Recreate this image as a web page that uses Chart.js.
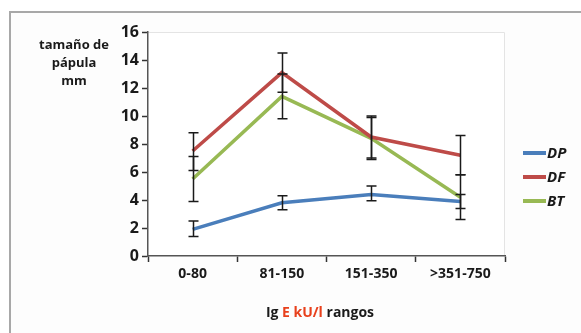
<!DOCTYPE html>
<html>
<head>
<meta charset="utf-8">
<script src="https://cdn.jsdelivr.net/npm/chart.js@4"></script>
<style>
  html, body { margin: 0; padding: 0; background: #fff; }
  #wrap { width: 581px; height: 333px; }
</style>
</head>
<body>
<div id="wrap"><canvas id="grafico"></canvas></div>
<script>
const rangos = ["0-80", "81-150", "151-350", ">351-750"];
const series = ["DP", "DF", "BT"];
const valoresDP = [1.9, 3.8, 4.4, 3.9];
const valoresDF = [7.5, 13.1, 8.5, 7.2];
const valoresBT = [5.5, 11.4, 8.4, 4.2];
// barras de error (bajo / alto)
const errDPbajo = [1.4, 3.3, 3.95, 3.4];
const errDPalto = [2.5, 4.3, 5.0, 4.4];
const errDFbajo = [6.1, 11.7, 7.0, 5.8];
const errDFalto = [8.8, 14.5, 10.0, 8.6];
const errBTbajo = [3.9, 9.8, 6.9, 2.6];
const errBTalto = [7.1, 13.0, 9.9, 5.8];
const colores = ["#4a7ebb", "#be4b48", "#98b954"];

const fuente = "'Open Sans', sans-serif";

const marco = {
  id: "marco",
  beforeDraw(chart) {
    const ctx = chart.ctx;
    ctx.save();
    ctx.fillStyle = "#fdfdfd";
    ctx.fillRect(10, 12, 600, 400);
    ctx.strokeStyle = "#a8a8a8";
    ctx.lineWidth = 2;
    ctx.strokeRect(10, 12, 600, 400);
    const a = chart.chartArea;
    ctx.fillStyle = "#ffffff";
    ctx.fillRect(a.left, a.top, a.right - a.left, a.bottom - a.top);
    ctx.strokeStyle = "#e4e4e4";
    ctx.lineWidth = 1;
    ctx.beginPath();
    ctx.moveTo(a.left, a.top + 0.5);
    ctx.lineTo(a.right - 0.5, a.top + 0.5);
    ctx.lineTo(a.right - 0.5, a.bottom);
    ctx.stroke();
    ctx.restore();
  },
  afterDraw(chart) {
    const ctx = chart.ctx;
    const x = chart.scales.x, y = chart.scales.y;
    const bajos = [errDPbajo, errDFbajo, errBTbajo];
    const altos = [errDPalto, errDFalto, errBTalto];
    ctx.save();
    ctx.strokeStyle = "#1a1a1a";
    ctx.lineWidth = 1.5;
    for (let s = 0; s < 3; s++) {
      for (let i = 0; i < rangos.length; i++) {
        const px = Math.round(x.getPixelForValue(i)) + 0.5;
        const y1 = y.getPixelForValue(bajos[s][i]);
        const y2 = y.getPixelForValue(altos[s][i]);
        ctx.beginPath();
        ctx.moveTo(px, y1); ctx.lineTo(px, y2);
        ctx.moveTo(px - 5, y1); ctx.lineTo(px + 5, y1);
        ctx.moveTo(px - 5, y2); ctx.lineTo(px + 5, y2);
        ctx.stroke();
      }
    }
    // titulo eje y
    ctx.fillStyle = "#1a1a1a";
    ctx.font = "bold 13px " + fuente;
    ctx.textAlign = "center";
    ctx.textBaseline = "middle";
    ctx.fillText("tamaño de", 74, 45);
    ctx.fillText("pápula", 74, 63);
    ctx.fillText("mm", 74, 81);
    // titulo eje x
    ctx.font = "bold 14px " + fuente;
    ctx.textAlign = "left";
    const partes = [["Ig ", "#1a1a1a"], ["E kU/l", "#e8401c"], [" rangos", "#1a1a1a"]];
    let total = 0;
    partes.forEach(p => total += ctx.measureText(p[0]).width);
    let cx = 320 - total / 2;
    partes.forEach(p => {
      ctx.fillStyle = p[1];
      ctx.fillText(p[0], cx, 313);
      cx += ctx.measureText(p[0]).width;
    });
    // leyenda
    ctx.font = "italic bold 15px " + fuente;
    series.forEach((nombre, s) => {
      const ly = 153 + s * 24;
      ctx.strokeStyle = colores[s];
      ctx.lineWidth = 4;
      ctx.beginPath();
      ctx.moveTo(523, ly); ctx.lineTo(546, ly);
      ctx.stroke();
      ctx.fillStyle = "#1a1a1a";
      ctx.fillText(nombre, 547, ly + 1);
    });
    ctx.restore();
  }
};

const datos = [valoresDP, valoresDF, valoresBT];

new Chart(document.getElementById("grafico"), {
  type: "line",
  data: {
    labels: rangos,
    datasets: series.map((nombre, s) => ({
      label: nombre,
      data: datos[s],
      borderColor: colores[s],
      backgroundColor: colores[s],
      borderWidth: 3.5,
      pointRadius: 0,
      tension: 0,
      fill: false
    }))
  },
  options: {
    responsive: true,
    maintainAspectRatio: false,
    animation: false,
    layout: { padding: { left: 108, right: 76, top: 32, bottom: 0 } },
    plugins: { legend: { display: false }, tooltip: { enabled: false } },
    scales: {
      x: {
        offset: true,
        grid: { offset: true, drawOnChartArea: false, color: "#333", tickLength: 6, tickWidth: 1.5 },
        border: { color: "#555", width: 1.5 },
        ticks: { color: "#1a1a1a", font: { family: fuente, size: 14, weight: "bold" }, padding: 4, maxRotation: 0 },
        afterFit: s => { s.height = 77; }
      },
      y: {
        min: 0,
        max: 16,
        ticks: { stepSize: 2, color: "#1a1a1a", font: { family: fuente, size: 16, weight: "bold" }, padding: 3 },
        grid: { drawOnChartArea: false, color: "#333", tickLength: 6, tickWidth: 1.5 },
        border: { color: "#555", width: 1.5 },
        afterFit: s => { s.width = 40; }
      }
    }
  },
  plugins: [marco]
});
</script>
</body>
</html>
